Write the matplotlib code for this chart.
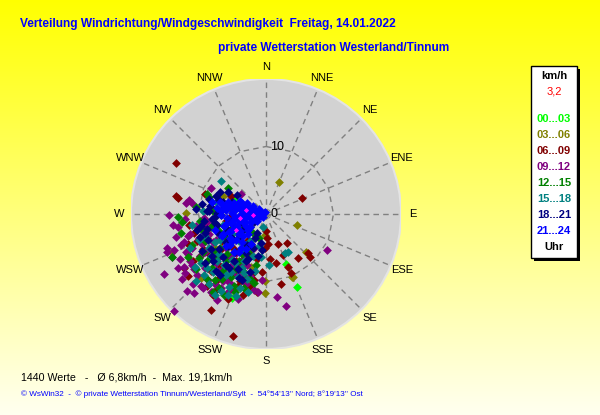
import matplotlib.pyplot as plt
import numpy as np
from matplotlib.patches import Circle, Rectangle

# wind vectors (east, north) in km/h, one list pair per time-of-day group
lime_u = [4.6, -5.1, 3.0, -4.7]
lime_v = [-10.8, -12.4, -7.4, 2.2]

olive_u = [1.9, 4.6, 5.9, 3.9, -0.1, -0.1, -0.1, -11.8, -14.0, -9.6, -4.6, -3.9, -6.3, 4.0, -3.0, -7.5, -5.0, -2.2]
olive_v = [4.8, -1.7, -5.7, -9.3, -10.0, -11.7, -3.1, 0.1, -5.7, -9.5, -10.9, -9.3, 2.6, -9.3, -6.0, -5.0, 0.5, -7.8]

maroon_u = [-13.3, -13.0, 5.3, -4.9, -8.1, -11.5, -8.8, 2.2, 4.8, 6.2, 6.5, 3.7, 3.2, 3.1, 1.8, 0.3,
            0.0, 0.2, -0.1, 1.5, 0.6, 2.5, -0.6, -2.3, -1.3, -3.8, -13.3, -7.2, -8.5, -6.5, -4.5,
            -7.0, -9.4, -3.0, -5.2, -10.6, -2.0, -6.0, -8.0, -4.0, -9.0, -5.6, -3.4, -1.4, -10.8,
            -7.8, -2.6, -5.2, -11.6, -12.2,
            -6.8, -8.2, -9.8, -4.8, -3.6, -7.4, -5.8, -11.4, -2.4, -6.2, -9.2, -4.2, -1.8, -10.2,
            -3.2, -5.4, -7.8, -8.8]
maroon_v = [7.5, 2.4, 2.3, -18.1, -14.2, -9.2, -10.7, -10.3, -6.5, -5.8, -6.3, -8.8, -7.9, -4.3, -4.5, -4.5,
            -2.5, -3.6, -5.0, -7.2, -6.6, -6.1, -8.6, -10.7, -11.5, -10.0, 2.7, -9.8, -6.0, -4.0, -7.0,
            -7.6, -5.2, -5.5, -9.2, -2.8, -8.8, -1.0, -1.8, 1.4, 3.0, -12.6, -12.0, -6.6, -7.0,
            -12.0, -3.8, 2.6, -4.4, -8.0,
            -5.4, -8.4, -6.2, -5.2, -7.8, -11.2, -6.4, -1.6, -6.0, -3.2, -2.2, -10.6, -9.8, -4.0,
            -9.4, -0.4, 0.8, -3.6]

purple_u = [9.1, 3.0, 1.6, -1.8, -1.2, -13.6, -11.7, -10.6, -15.1, -14.4, -14.7, -14.6, -13.6, -11.8,
            -11.8, -11.4, -10.9, -8.2, -3.7, -5.9, -5.3, -6.4, -5.8, -11.2, -12.1, -11.3, -9.5, -8.0,
            -7.0, -9.0, -10.2, -6.0, -5.0, -8.4, -10.0, -3.8, -7.6, -4.4, -2.8, -9.8, -11.0, -6.6,
            -3.0, -8.8, -1.8, -6.0, -12.4, -4.2, -7.2, -0.6, -12.0, -11.0, -9.2, -7.4, -5.4, -4.6,
            -9.0, -7.4, -6.2, -8.6, -10.6, -5.4, -4.0, -11.6, -12.8, -13.0, -7.8, -9.6, -3.4, -6.8,
            -8.2, -10.4, -5.0, -12.2, -2.4, -9.2,
            -13.4, -12.6, -14.0, -12.0, -13.0, -10.8, -9.4, -8.0, -11.6, -13.8]
purple_v = [-5.3, -13.6, -12.3, -11.3, -11.5, -14.4, -11.4, -11.7, -8.9, -0.1, -5.1, -5.6, -5.4, -5.6,
            1.7, 2.0, 1.6, 3.9, 2.9, -11.8, -11.3, -9.9, -9.8, -2.9, -4.1, -6.9, -4.5, -6.5,
            -8.5, -8.0, -9.0, -5.0, -7.5, -3.0, -3.6, -9.0, -10.4, -5.8, -7.6, -6.2, -7.6, -11.0,
            -10.4, -1.2, -5.0, -2.6, -9.6, -12.6, -12.8, -9.8, -0.8, -5.0, -2.0, -3.8, -6.2, -8.8,
            -5.6, -7.2, -8.0, -9.8, -8.2, -10.2, -7.6, -3.2, -6.6, -2.0, -4.2, -10.6, -6.6, -6.2,
            -11.6, -1.8, -3.8, -7.8, -9.2, -0.6,
            -3.4, -4.6, -6.4, -8.8, -8.0, -10.4, -11.0, -11.6, -6.0, -1.6]

green_u = [-7.9, -13.9, -13.0, -12.4, -12.6, -10.3, -8.4, -8.7, -5.7, -2.4, -9.0, -7.5, -6.0, -4.5,
           -8.0, -10.0, -5.5, -3.6, -7.0, -9.6, -6.5, -3.0, -1.5, -11.0, -4.8, -2.0, -7.8, -5.0,
           -8.8, -3.2, -1.0, -6.2, -6.8, -4.2,
           -8.6, -7.2, -6.4, -5.2, -4.0, -9.4, -10.4, -3.4, -2.6, -7.6, -6.0, -4.6, -8.2, -5.8,
           -9.8, -3.8, -11.6, -1.8, -7.0, -5.4]
green_v = [-11.6, -6.3, -0.5, -1.2, -2.8, 1.1, 2.5, 2.9, 3.9, -9.7, -4.0, -5.5, -7.0, -8.2,
           -8.0, -6.5, -4.5, -6.0, -2.5, -2.2, -9.6, -4.6, -7.5, -4.6, -10.6, -2.8, 0.4, 1.2,
           -9.6, -11.0, -3.5, -12.0, -5.0, -3.0,
           -6.8, -6.4, -8.4, -9.4, -7.0, -5.6, -8.2, -8.4, -5.6, -9.8, -3.6, -11.6, -2.0, -6.0,
           -1.0, -1.8, -6.4, -10.2, -11.0, -2.4]

teal_u = [-6.6, -7.6, 2.8, 3.3, -10.9, -10.5, -9.6, -2.8, 0.5, -7.0, -5.0, -3.5, -8.5, -6.0, -4.0,
          -2.0, -7.8, -5.5, -9.0, -3.0, -1.0, -6.8, -4.4, -8.4, -11.2, -0.4, -2.6, -9.4, -7.4,
          -10.4, -4.8, -3.2, -5.8,
          -6.2, -5.2, -4.2, -3.2, -7.2, -8.2, -9.2, -6.6, -5.6, -4.6, -3.6, -2.4, -7.6, -8.8,
          -10.0, -1.6, -0.8, -5.0, -6.4, -3.8]
teal_v = [4.9, -12.0, -5.8, -5.7, -1.6, -7.8, -7.3, -9.6, -7.6, -6.0, -6.8, -8.0, -5.0, -9.0, -4.0,
          -6.2, -8.6, -10.8, -3.2, -2.2, -4.8, -3.8, -12.2, -10.4, -5.0, -2.0, -11.6, 0.5, 1.8,
          -10.0, -5.6, -7.0, -4.4,
          -7.6, -8.6, -9.4, -8.8, -7.0, -6.2, -9.0, -11.4, -12.0, -7.2, -5.2, -4.0, -4.2, -8.0,
          -3.8, -8.4, -6.4, -3.0, -1.6, -11.0]

navy_u = [-5.6, -4.3, -7.0, -6.2, -8.3, -3.2, -4.8, -7.6, -9.2, -2.4, -5.8, -3.8, -7.0, -8.6, -2.0,
          -4.6, -6.4, -1.2, -3.0, -5.5, -7.8, -9.5, -1.6, -6.8, -4.0, -10.2, -2.4, -0.8, -8.2,
          -5.0, -0.6, -3.6, -6.0, -4.4, -2.8,
          -6.6, -7.2, -8.8, -9.8, -5.2, -4.0, -3.4, -2.2, -6.0, -7.4, -8.0, -1.4, -3.0, -4.8,
          -5.6, -7.0, -9.0, -2.6, -4.2, -6.2, -3.6, -8.4, -5.0, -1.8,
          -9.5, -8.8, -8.0, -9.6, -7.4, -6.8, -8.4, -7.6, -9.0, -10.4, -7.2, -6.4]
navy_v = [3.3, 2.8, 2.0, 1.0, 1.2, 0.8, -0.8, -0.4, -1.0, -2.0, -2.2, -3.2, -3.0, -3.8, -5.0,
          -5.6, -6.4, -6.2, -7.0, -8.0, -7.0, -5.5, -3.6, -9.0, -9.5, -2.4, -8.6, -4.3, -5.2,
          -3.6, -5.4, -1.4, -4.2, -2.0, -4.6,
          -0.2, -1.6, -2.2, -3.4, -1.4, -0.4, -2.4, -4.4, -7.6, -8.4, -6.2, -2.8, -5.8, -7.0,
          -4.8, -5.2, -7.2, -6.6, -8.2, -3.0, -9.8, 0.4, 1.8, -1.2,
          1.5, 0.4, -0.8, -1.8, 2.6, 3.2, 2.2, -1.4, -2.8, 0.8, 0.2, 1.8]

blue_u = [-0.3, -0.6, -0.9, -1.2, -1.5, -1.8, -2.0, -2.3, -2.5, -2.8,
          -3.0, -3.2, -3.5, -3.6, -3.8, -4.0, -4.2, -4.4, -4.6, -4.8,
          -5.0, -5.2, -5.4, -5.6, -5.8, -6.0, -6.2, -6.4, -6.6, -6.8,
          -7.3, -7.5, -8.0, -4.5, -5.5, -6.5, -3.0, -2.2, -4.0, -5.0,
          -6.0, -3.5, -2.6, -3.8, -2.8, -1.2, -1.9, -3.3, -4.9, -5.9,
          -2.5, -4.1, -6.1, -0.8, -1.6, -3.9, -5.3, -1.0, -2.1, -3.1,
          -4.3, -5.1, -6.3, -3.6, -4.7, -5.7, -6.7, -2.7, -3.4, -4.4,
          -5.4, -2.0, -3.0, -4.0, -1.4, -2.4, -3.7, -4.8, -2.2, -0.5,
          -1.0, -1.7, -2.6, -3.3, -0.2, -1.3, -2.9]
blue_v = [0.1, 0.2, -0.1, 0.4, 0.0, -0.3, 0.6, 0.3, -0.4, 0.9,
          0.1, -0.7, 1.2, 0.5, -0.2, -1.0, 1.5, 0.8, -0.5, 1.6,
          0.2, -1.3, 1.0, 1.8, -0.6, 0.6, -1.8, 1.4, -0.2, 1.8,
          0.9, -2.3, 1.8, -2.0, -2.7, -3.2, -1.8, -1.2, -3.0, -4.0,
          -4.8, -4.2, -3.0, 1.9, 1.6, -0.5, 0.9, 0.4, -1.0, -1.5,
          -2.1, 1.1, 0.8, -0.3, 0.3, -2.5, -3.5, 0.2, -0.6, -1.2,
          -1.8, -2.4, -2.9, 1.6, 1.4, 1.2, 0.4, -2.4, -3.3, -3.8,
          -4.6, 1.2, -5.2, -5.6, -1.0, -1.9, -5.0, -5.6, -4.4, -0.4,
          0.7, -0.7, 1.2, -1.4, 0.3, -0.2, -0.2]

latest_u = [-3.9, -1.9, -4.5, -2.9]
latest_v = [-0.6, -0.1, -2.3, 0.6]

groups = [
    (lime_u, lime_v, '#00FF00', 20),
    (olive_u, olive_v, '#808000', 20),
    (maroon_u, maroon_v, '#800000', 20),
    (purple_u, purple_v, '#800080', 20),
    (green_u, green_v, '#008000', 20),
    (teal_u, teal_v, '#008080', 20),
    (navy_u, navy_v, '#000080', 20),
    (blue_u, blue_v, '#0000FF', 20),
    (latest_u, latest_v, '#FF00FF', 7),
]

directions = ['N', 'NNE', 'NE', 'ENE', 'E', 'ESE', 'SE', 'SSE',
              'S', 'SSW', 'SW', 'WSW', 'W', 'WNW', 'NW', 'NNW']
hour_labels = ['00...03', '03...06', '06...09', '09...12', '12...15', '15...18', '18...21', '21...24']
hour_colors = ['#00FF00', '#808000', '#800000', '#800080', '#008000', '#008080', '#000080', '#0000FF']

r_max = 20
r_ring = 10
current_speed = '3,2'

fig = plt.figure(figsize=(6, 4.15), dpi=100)

# yellow gradient background
bg = fig.add_axes([0, 0, 1, 1])
grad = np.linspace(0, 1, 256).reshape(-1, 1)
cols = np.ones((256, 1, 3))
cols[:, 0, 2] = grad[:, 0] * 0.94
bg.imshow(cols, aspect='auto', extent=[0, 1, 0, 1])
bg.set_xlim(0, 1)
bg.set_ylim(0, 1)
bg.axis('off')

ax = fig.add_axes([131 / 600, 66 / 415, 270 / 600, 270 / 415])
ax.set_xlim(-r_max, r_max)
ax.set_ylim(-r_max, r_max)
ax.axis('off')

ax.add_patch(Circle((0, 0), r_max, facecolor='#D2D2D2', edgecolor='#E4E4E4', lw=1.5, zorder=1))

ang = np.deg2rad(90 - np.arange(16) * 22.5)
for a in ang:
    ax.plot([0, r_max * np.cos(a)], [0, r_max * np.sin(a)], color='#808080',
            lw=1.0, ls=(0, (4, 3)), zorder=2)
ring_a = np.append(ang, ang[0])
ax.plot(r_ring * np.cos(ring_a), r_ring * np.sin(ring_a), color='#808080',
        lw=1.0, ls=(0, (4, 3)), zorder=2)

for lab, a in zip(directions, ang):
    ax.text(21.8 * np.cos(a), 21.8 * np.sin(a), lab, ha='center', va='center',
            fontsize=8, family='Liberation Sans', clip_on=False)

for u, v, c, size in groups:
    ax.scatter(u, v, marker='D', s=size, color=c, linewidths=0, zorder=3)

ax.text(0.6, r_ring, '10', ha='left', va='center', fontsize=9, family='Liberation Sans', zorder=4)
ax.text(0.7, 0, '0', ha='left', va='center', fontsize=9, family='Liberation Sans', zorder=4)

# titles
title_font = ['Liberation Sans Narrow', 'Liberation Sans']
fig.text(20 / 600, 1 - 24 / 415, 'Verteilung Windrichtung/Windgeschwindigkeit  Freitag, 14.01.2022',
         color='#0000FF', fontsize=8.6, fontweight='bold', family=title_font, va='center')
fig.text(218 / 600, 1 - 48 / 415, 'private Wetterstation Westerland/Tinnum',
         color='#0000FF', fontsize=8.6, fontweight='bold', family=title_font, va='center')

# legend box
fig.patches.append(Rectangle((534 / 600, 1 - 261 / 415), 46 / 600, 192 / 415,
                             transform=fig.transFigure, facecolor='black', zorder=5))
fig.patches.append(Rectangle((531 / 600, 1 - 258 / 415), 46 / 600, 192 / 415,
                             transform=fig.transFigure, facecolor='white', edgecolor='black',
                             lw=1, zorder=6))
lx = 554 / 600
fig.text(lx, 1 - 76 / 415, 'km/h', ha='center', va='center', fontsize=8, fontweight='bold',
         family='Liberation Sans', zorder=7)
fig.text(lx, 1 - 92 / 415, current_speed, ha='center', va='center', fontsize=8, color='#FF0000',
         family='Liberation Sans', zorder=7)
for i, (lab, c) in enumerate(zip(hour_labels, hour_colors)):
    fig.text(lx, 1 - (119.5 + i * 15.9) / 415, lab, ha='center', va='center', fontsize=8,
             fontweight='bold', color=c, family='Liberation Sans', zorder=7)
fig.text(lx, 1 - 247 / 415, 'Uhr', ha='center', va='center', fontsize=8, fontweight='bold',
         family='Liberation Sans', zorder=7)

# footer
fig.text(21 / 600, 1 - 377 / 415, '1440 Werte   -   Ø 6,8km/h  -  Max. 19,1km/h',
         fontsize=7.7, family='Liberation Sans', va='center')
fig.text(21 / 600, 1 - 394 / 415,
         "© WsWin32  -  © private Wetterstation Tinnum/Westerland/Sylt  -  54°54'13'' Nord; 8°19'13'' Ost",
         fontsize=5.9, color='#0000FF', family='Liberation Sans', va='center')

fig.savefig('out.png', dpi=100)
